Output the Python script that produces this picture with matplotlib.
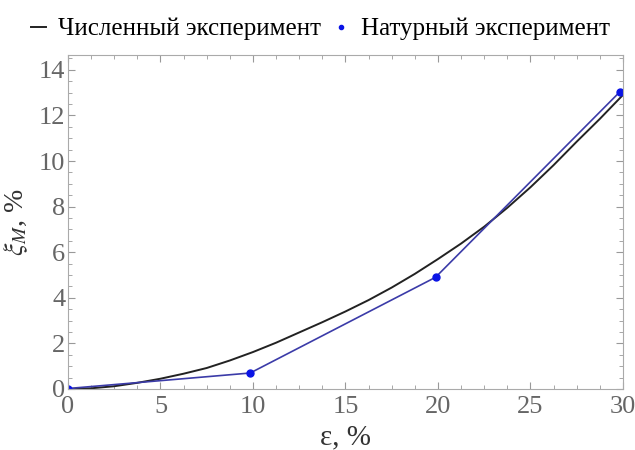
import matplotlib.pyplot as plt
from matplotlib.ticker import MultipleLocator
from matplotlib.lines import Line2D

# численный эксперимент (кривая)
eps_num = [0, 1.25, 2.5, 3.75, 5, 6.25, 7.5, 8.75, 10, 11.25, 12.5, 13.75, 15,
           16.25, 17.5, 18.75, 20, 21.25, 22.5, 23.75, 25, 26.25, 27.5, 28.75, 30]
xi_num = [0, 0.03, 0.12, 0.27, 0.45, 0.67, 0.92, 1.25, 1.62, 2.03, 2.48, 2.93, 3.4,
          3.9, 4.45, 5.05, 5.7, 6.38, 7.12, 7.95, 8.85, 9.82, 10.85, 11.85, 12.9]

# натурный эксперимент
eps_nat = [0, 9.85, 19.87, 29.85]
xi_nat = [0.02, 0.7, 4.9, 13.05]

plt.rcParams['font.family'] = 'serif'
plt.rcParams['font.serif'] = ['Liberation Serif', 'DejaVu Serif']
plt.rcParams['mathtext.fontset'] = 'stix'

fig = plt.figure(figsize=(6.35, 4.5), dpi=100)
ax = fig.add_axes([0.107, 0.1356, 0.874, 0.742])

ax.plot(eps_num, xi_num, color='#222222', lw=1.4)
ax.plot(eps_nat, xi_nat, color='#3b3ba8', lw=1.2)
ax.plot(eps_nat, xi_nat, 'o', color='#0a14e6', ms=5, lw=0)

ax.set_xlim(0, 30)
ax.set_ylim(0, 14.65)
ax.xaxis.set_major_locator(MultipleLocator(5))
ax.xaxis.set_minor_locator(MultipleLocator(1.25))
ax.yaxis.set_major_locator(MultipleLocator(2))
ax.yaxis.set_minor_locator(MultipleLocator(0.5))
ax.tick_params(which='both', direction='in', top=True, right=True, color='#999999')
ax.tick_params(which='major', length=5, labelsize=19, labelcolor='#666666', pad=2)
ax.tick_params(axis='x', which='major', pad=5)
ax.tick_params(which='minor', length=3)
for s in ax.spines.values():
    s.set_color('#aaaaaa')

ax.set_xlabel('ε, %', fontsize=21, color='#333333', labelpad=5)
ax.set_ylabel(r'$\xi_M$, %', fontsize=20, color='#333333', labelpad=6)

handles = [Line2D([], [], color='#222222', lw=1.4),
           Line2D([], [], color='#0a14e6', marker='o', ms=3, lw=0)]
fig.legend(handles, ['Численный эксперимент', 'Натурный эксперимент'],
           loc='upper center', bbox_to_anchor=(0.505, 1.01), ncol=2, frameon=False,
           fontsize=18, handlelength=0.6, handletextpad=0.5, columnspacing=0.5)

fig.savefig('out.png')
